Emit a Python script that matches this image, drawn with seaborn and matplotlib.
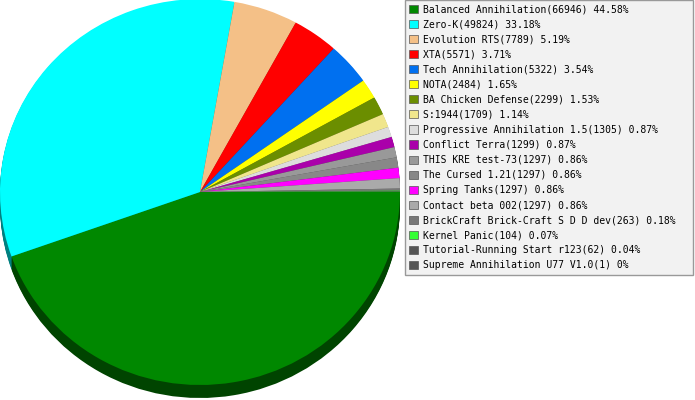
import matplotlib
matplotlib.use('Agg')
import matplotlib.pyplot as plt
from matplotlib.patches import Patch
import seaborn as sns

# Données
mods = ['Balanced Annihilation', 'Zero-K', 'Evolution RTS', 'XTA', 'Tech Annihilation',
        'NOTA', 'BA Chicken Defense', 'S:1944', 'Progressive Annihilation 1.5',
        'Conflict Terra', 'THIS KRE test-73', 'The Cursed 1.21', 'Spring Tanks',
        'Contact beta 002', 'BrickCraft Brick-Craft S D D dev', 'Kernel Panic',
        'Tutorial-Running Start r123', 'Supreme Annihilation U77 V1.0']
counts = [66946, 49824, 7789, 5571, 5322, 2484, 2299, 1709, 1305,
          1299, 1297, 1297, 1297, 1297, 263, 104, 62, 1]
hex_colors = ['#008800', '#00ffff', '#f4c087', '#ff0000', '#0070f0', '#ffff00',
              '#6b8e00', '#f0e68c', '#dddddd', '#aa00aa', '#999999', '#888888',
              '#ff00ff', '#aaaaaa', '#777777', '#33ff33', '#555555', '#555555']

sns.set_theme(style='white')
plt.rcParams['font.family'] = ['DejaVu Sans Mono', 'DejaVu Sans']

palette = sns.color_palette(hex_colors)
dark = [tuple(c * 0.5 for c in col) for col in palette]

total = sum(counts)
labels = [f"{m}({c}) {round(c / total * 100, 2):g}%" for m, c in zip(mods, counts)]

fig = plt.figure(figsize=(6.95, 4.0), dpi=100)
ax = fig.add_axes([0, 0, 400 / 695, 1])

# épaisseur du camembert (effet 3D)
depth = 13 / 193
steps = 14
for i in range(steps, 0, -1):
    ax.pie(counts, colors=dark, startangle=0, counterclock=False,
           center=(0, -depth * i / steps), radius=1, frame=True,
           wedgeprops={'linewidth': 0})
ax.pie(counts, colors=palette, startangle=0, counterclock=False,
       center=(0, 0), radius=1, frame=True, wedgeprops={'linewidth': 0})

ax.set_aspect('auto')
ax.set_xlim(-1, 1)
ax.set_ylim(-208 / 193, 192 / 193)
ax.axis('off')

handles = [Patch(facecolor=c, edgecolor='#555555', linewidth=0.5) for c in palette]
leg = fig.legend(handles, labels, loc='upper left', mode='expand',
                 bbox_to_anchor=(405 / 695, 0, 288 / 695, 1.0), fontsize=7,
                 frameon=True, fancybox=False, borderpad=0.45,
                 handlelength=0.9, handleheight=0.9, handletextpad=0.5,
                 labelspacing=0.52, borderaxespad=0, labelcolor='black')
frame = leg.get_frame()
frame.set_facecolor('#f2f2f2')
frame.set_edgecolor('#999999')
frame.set_linewidth(1)
frame.set_alpha(1)

fig.savefig('out.png', dpi=100)
